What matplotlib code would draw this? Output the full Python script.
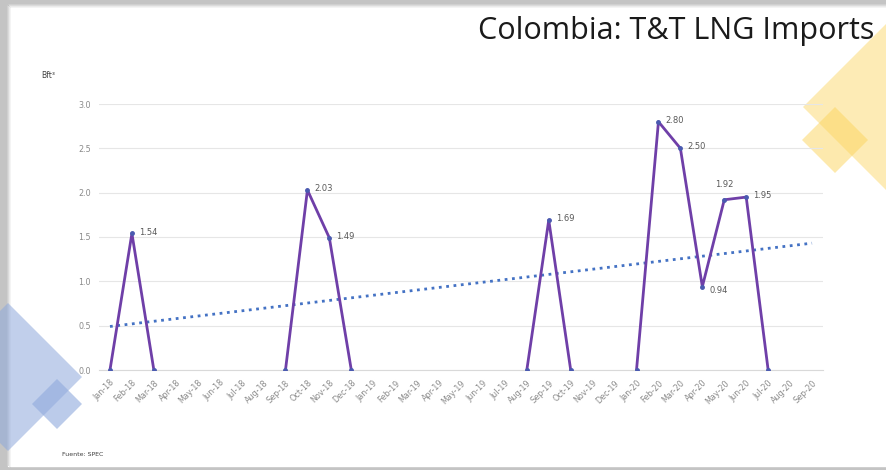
import matplotlib.pyplot as plt
import numpy as np
from matplotlib.patches import Polygon, Rectangle

months = ["Jan-18", "Feb-18", "Mar-18", "Apr-18", "May-18", "Jun-18", "Jul-18", "Aug-18", "Sep-18",
          "Oct-18", "Nov-18", "Dec-18", "Jan-19", "Feb-19", "Mar-19", "Apr-19", "May-19", "Jun-19",
          "Jul-19", "Aug-19", "Sep-19", "Oct-19", "Nov-19", "Dec-19", "Jan-20", "Feb-20", "Mar-20",
          "Apr-20", "May-20", "Jun-20", "Jul-20", "Aug-20", "Sep-20"]
nan = np.nan
imports = [0, 1.54, 0, nan, nan, nan, nan, nan, 0,
           2.03, 1.49, 0, nan, nan, nan, nan, nan, nan,
           nan, 0, 1.69, 0, nan, nan, 0, 2.80, 2.50,
           0.94, 1.92, 1.95, 0, nan, nan]
yticks = [0.0, 0.5, 1.0, 1.5, 2.0, 2.5, 3.0]

W, H = 886, 470
fig = plt.figure(figsize=(W / 100, H / 100), dpi=100)
fig.patch.set_facecolor("#c4c4c4")

# slide background + decorations, drawn in pixel coords
bg = fig.add_axes([0, 0, 1, 1])
bg.set_xlim(0, W)
bg.set_ylim(H, 0)
bg.axis("off")
bg.add_patch(Rectangle((8, 5), W, 461, color="white", zorder=0))
for i, a in enumerate([0.35, 0.2, 0.1]):
    bg.add_patch(Rectangle((8 + i, 5 + i), W, 1, color="#9a9a9a", alpha=a, lw=0))
    bg.add_patch(Rectangle((8 + i, 5 + i), 1, 461, color="#9a9a9a", alpha=a, lw=0))


def diamond(cx, cy, r, color, alpha):
    bg.add_patch(Polygon([(cx - r, cy), (cx, cy - r), (cx + r, cy), (cx, cy + r)],
                         closed=True, color=color, alpha=alpha, lw=0, zorder=1))


diamond(890, 107, 87, "#fcd45c", 0.45)
diamond(835, 140, 33, "#fcd45c", 0.5)
diamond(8, 377, 74, "#8fa9dc", 0.55)
diamond(57, 404, 25, "#8fa9dc", 0.6)

bg.text(874, 31, "Colombia: T&T LNG Imports", ha="right", va="center", fontsize=22,
        family="Open Sans", color="#1a1a1a")
bg.text(41, 76, "Bft³", fontsize=5.5, color="#404040", va="center")
bg.text(62, 455, "Fuente: SPEC", fontsize=4.5, color="#404040", va="center")

ax = fig.add_axes([99 / W, 1 - 370 / H, 724 / W, 266 / H])
ax.patch.set_alpha(0)
x = np.arange(len(months))
y = np.array(imports, dtype=float)

ax.plot(x, y, color="#6f3fa8", lw=2, zorder=3)
ax.plot(x, y, "o", ms=2.5, color="#4a5ab0", zorder=4)

# linear trend over the available months
ok = ~np.isnan(y)
coef = np.polyfit(x[ok], y[ok], 1)
ax.plot(x, np.polyval(coef, x), ":", color="#4472c4", lw=2, zorder=2)

for xi, yi in zip(x, y):
    if np.isnan(yi) or yi == 0:
        continue
    if abs(yi - 1.92) < 1e-6:
        ax.annotate(f"{yi:.2f}", (xi, yi), xytext=(0, 8), textcoords="offset points",
                    ha="center", va="bottom", fontsize=6, color="#595959")
    elif abs(yi - 0.94) < 1e-6:
        ax.annotate(f"{yi:.2f}", (xi, yi), xytext=(5, -3), textcoords="offset points",
                    ha="left", va="center", fontsize=6, color="#595959")
    else:
        ax.annotate(f"{yi:.2f}", (xi, yi), xytext=(5, 1), textcoords="offset points",
                    ha="left", va="center", fontsize=6, color="#595959")

ax.set_xlim(-0.5, len(months) - 0.5)
ax.set_ylim(0, 3)
ax.set_yticks(yticks)
ax.set_yticklabels([f"{v:.1f}" for v in yticks], fontsize=5.8, color="#8a8a8a")
ax.set_xticks(x)
ax.set_xticklabels(months, rotation=45, ha="right", rotation_mode="anchor",
                   fontsize=5.8, color="#8a8a8a")
ax.tick_params(length=0, pad=6)
ax.grid(axis="y", color="#e6e6e6", lw=0.8)
ax.set_axisbelow(True)
for s in ["top", "right", "left"]:
    ax.spines[s].set_visible(False)
ax.spines["bottom"].set_color("#d9d9d9")

fig.savefig("out.png", dpi=100, facecolor=fig.get_facecolor())
